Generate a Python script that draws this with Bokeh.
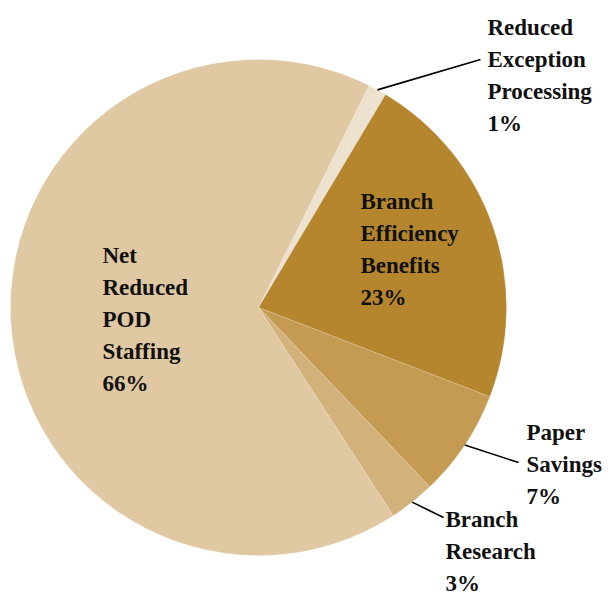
import math
from bokeh.plotting import figure
from bokeh.models import Range1d, ColumnDataSource
from bokeh.core.properties import value
from bokeh.embed import file_html
from bokeh.resources import INLINE

# ---- data (clockwise from the small slice near the top) ----
labels = ["Reduced\nException\nProcessing", "Branch\nEfficiency\nBenefits",
          "Paper\nSavings", "Branch\nResearch", "Net\nReduced\nPOD\nStaffing"]
values = [1.2, 22.3, 7.0, 3.0, 66.5]
pct_text = ["1%", "23%", "7%", "3%", "66%"]
colors = ["#ede2cf", "#b5862e", "#c59b53", "#d3b17b", "#dfc8a2"]

W, H = 610, 596
cx, cy_px, R = 258, 307, 248
start_deg_cw = 26.5  # clockwise from 12 o'clock where first slice starts

# label anchor positions (px, top-down: x of left edge, y of first line's middle)
label_pos = [(487, 27), (360, 201), (526, 432), (445, 519), (102, 255)]
line_gap = 32.0
leader_end = [(480, 59), None, (518, 462), (443, 517), None]

def Y(py):
    return H - py

p = figure(width=W, height=H, output_backend="svg", toolbar_location=None,
           x_range=Range1d(0, W), y_range=Range1d(0, H), min_border=0)
p.axis.visible = False
p.grid.visible = False
p.outline_line_color = None
p.background_fill_color = "white"

total = sum(values)
starts, ends, mids = [], [], []
acc = start_deg_cw
for v in values:
    a0 = acc
    a1 = acc + v / total * 360.0
    starts.append(math.radians(90 - a0))
    ends.append(math.radians(90 - a1))
    mids.append((a0 + a1) / 2)
    acc = a1

src = ColumnDataSource(dict(x=[cx] * len(values), y=[Y(cy_px)] * len(values),
                            s=starts, e=ends, c=colors))
p.wedge(x="x", y="y", radius=R, start_angle="s", end_angle="e", direction="clock",
        fill_color="c", line_color="white", line_width=0.6, line_alpha=0.25, source=src)

# leader lines
for m, end in zip(mids, leader_end):
    if end is None:
        continue
    sx = cx + R * math.sin(math.radians(m))
    sy = cy_px - R * math.cos(math.radians(m))
    p.line([sx, end[0]], [Y(sy), Y(end[1])], line_color="black", line_width=1.6)

tx, ty, tt = [], [], []
for l, t, (lx, ly) in zip(labels, pct_text, label_pos):
    for i, line in enumerate(l.split("\n") + [t]):
        tx.append(lx)
        ty.append(Y(ly + i * line_gap))
        tt.append(line)

p.text(x=tx, y=ty, text=tt,
       text_font=value("Liberation Serif"), text_font_style="bold",
       text_font_size="23px", text_color="#111111", text_align="left",
       text_baseline="middle")

open("out.html", "w").write(file_html(p, INLINE))
